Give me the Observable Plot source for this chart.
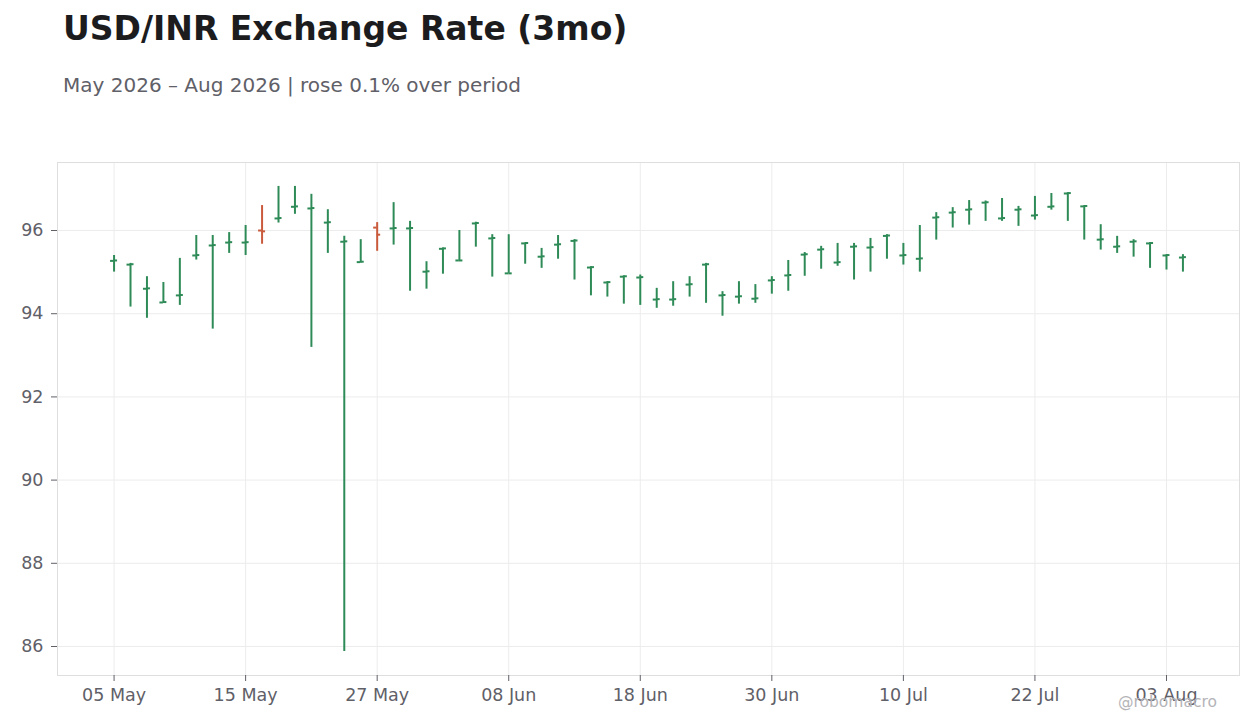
<!DOCTYPE html>
<html>
<head>
<meta charset="utf-8">
<script src="https://cdn.jsdelivr.net/npm/d3@7"></script>
<script src="https://cdn.jsdelivr.net/npm/@observablehq/plot@0.6"></script>
<style>
  html, body { margin: 0; padding: 0; background: #ffffff; }
  body { width: 1260px; height: 728px; position: relative; overflow: hidden; font-family: "DejaVu Sans", sans-serif; }
  #title { position: absolute; left: 63px; top: 12px; font-size: 33px; line-height: 1; font-weight: bold; color: #1c1c1e; white-space: nowrap; }
  #subtitle { position: absolute; left: 63px; top: 75px; font-size: 20px; line-height: 1; color: #5f6068; white-space: nowrap; }
  #chart { position: absolute; left: 0; top: 140px; }
  #credit { position: absolute; left: 1118px; top: 695px; font-size: 15.5px; line-height: 1; color: #b4b4b8; white-space: nowrap; }
</style>
</head>
<body>
<div id="title">USD/INR Exchange Rate (3mo)</div>
<div id="subtitle">May 2026 – Aug 2026 | rose 0.1% over period</div>
<div id="chart"></div>
<div id="credit">@robomacro</div>
<script>
// Trading days (weekdays) shown on the chart
const dates = [
  "2026-05-05","2026-05-06","2026-05-07","2026-05-08",
  "2026-05-11","2026-05-12","2026-05-13","2026-05-14","2026-05-15",
  "2026-05-18","2026-05-19","2026-05-20","2026-05-21","2026-05-22",
  "2026-05-25","2026-05-26","2026-05-27","2026-05-28","2026-05-29",
  "2026-06-01","2026-06-02","2026-06-03","2026-06-04","2026-06-05",
  "2026-06-08","2026-06-09","2026-06-10","2026-06-11","2026-06-12",
  "2026-06-15","2026-06-16","2026-06-17","2026-06-18","2026-06-19",
  "2026-06-22","2026-06-23","2026-06-24","2026-06-25","2026-06-26",
  "2026-06-29","2026-06-30","2026-07-01","2026-07-02","2026-07-03",
  "2026-07-06","2026-07-07","2026-07-08","2026-07-09","2026-07-10",
  "2026-07-13","2026-07-14","2026-07-15","2026-07-16","2026-07-17",
  "2026-07-20","2026-07-21","2026-07-22","2026-07-23","2026-07-24",
  "2026-07-27","2026-07-28","2026-07-29","2026-07-30","2026-07-31",
  "2026-08-03","2026-08-04"
];
const open = [
  95.27,95.18,94.60,94.27,94.44,95.40,95.64,95.71,95.71,
  96.00,96.29,96.57,96.53,96.19,95.73,95.24,96.07,96.05,96.05,
  95.01,95.56,95.28,96.17,95.81,94.97,95.69,95.37,95.66,95.75,
  95.11,94.75,94.89,94.87,94.34,94.34,94.70,95.18,94.44,94.41,
  94.36,94.80,94.92,95.42,95.54,95.23,95.61,95.59,95.87,95.40,
  95.32,96.31,96.43,96.50,96.67,96.29,96.50,96.36,96.57,96.89,
  96.58,95.78,95.61,95.73,95.69,95.40,95.35
];
const high = [
  95.40,95.21,94.89,94.75,95.33,95.88,95.88,95.95,96.12,
  96.60,97.06,97.06,96.87,96.50,95.86,95.78,96.19,96.67,96.22,
  95.25,95.58,96.00,96.20,95.90,95.90,95.70,95.57,95.88,95.78,
  95.13,94.77,94.91,94.93,94.61,94.77,94.89,95.21,94.53,94.77,
  94.70,94.89,95.28,95.47,95.62,95.69,95.69,95.81,95.90,95.69,
  96.12,96.43,96.55,96.72,96.71,96.77,96.58,96.82,96.89,96.91,
  96.60,96.14,95.86,95.78,95.71,95.42,95.42
];
const low = [
  95.00,94.16,93.89,94.25,94.20,95.29,93.63,95.45,95.40,
  95.67,96.18,96.39,93.19,95.45,85.88,95.22,95.50,95.65,94.54,
  94.59,94.95,95.28,95.60,94.88,94.97,95.19,95.09,95.31,94.81,
  94.43,94.40,94.23,94.20,94.13,94.18,94.40,94.25,93.94,94.23,
  94.25,94.47,94.54,94.90,95.07,95.14,94.81,95.00,95.31,95.17,
  95.00,95.77,96.06,96.13,96.22,96.22,96.10,96.25,96.49,96.22,
  95.77,95.53,95.45,95.36,95.09,95.05,95.00
];
const close = [
  95.28,95.19,94.61,94.28,94.45,95.41,95.65,95.72,95.72,
  95.98,96.30,96.58,96.54,96.20,95.74,95.25,95.90,96.06,96.06,
  95.02,95.57,95.28,96.18,95.82,94.97,95.70,95.38,95.67,95.76,
  95.12,94.76,94.90,94.88,94.35,94.35,94.71,95.19,94.45,94.42,
  94.37,94.81,94.93,95.43,95.55,95.24,95.62,95.60,95.88,95.41,
  95.33,96.32,96.44,96.51,96.68,96.30,96.51,96.37,96.58,96.90,
  96.59,95.79,95.62,95.74,95.70,95.41,95.36
];
const xTicks = ["2026-05-05","2026-05-15","2026-05-27","2026-06-08","2026-06-18",
                "2026-06-30","2026-07-10","2026-07-22","2026-08-03"];
const yTicks = [86, 88, 90, 92, 94, 96];

const upColor = "#2e8b57";
const downColor = "#c95a3c";
const gridColor = "#ececec";
const textColor = "#5f6068";

const data = dates.map((d, i) => ({
  date: d, open: open[i], high: high[i], low: low[i], close: close[i],
  color: close[i] >= open[i] ? upColor : downColor
}));

const parse = d3.utcParse("%Y-%m-%d");
const fmt = d => d3.utcFormat("%d %b")(parse(d));

const chart = Plot.plot({
  width: 1260,
  height: 588,
  marginLeft: 57,
  marginRight: 21,
  marginTop: 22,
  marginBottom: 53,
  style: { fontFamily: "DejaVu Sans", fontSize: "17.5px", color: textColor, background: "transparent" },
  x: { type: "point", domain: dates, padding: 3.44, round: false },
  y: { domain: [85.303, 97.635] },
  marks: [
    Plot.gridX(xTicks, { stroke: gridColor, strokeOpacity: 1 }),
    Plot.gridY(yTicks, { stroke: gridColor, strokeOpacity: 1 }),
    Plot.frame({ stroke: "#dedede" }),
    Plot.axisX({ ticks: xTicks, tickFormat: fmt, tickSize: 6, tickPadding: 7, label: null, stroke: textColor, fill: textColor }),
    Plot.axisY({ ticks: yTicks, tickSize: 6, tickPadding: 8, label: null, stroke: textColor, fill: textColor }),
    Plot.ruleX(data, { x: "date", y1: "low", y2: "high", stroke: "color", strokeWidth: 2 }),
    Plot.ruleY(data, { x1: "date", x2: "date", y: "open", stroke: "color", strokeWidth: 2, insetLeft: -3.5, insetRight: 0 }),
    Plot.ruleY(data, { x1: "date", x2: "date", y: "close", stroke: "color", strokeWidth: 2, insetLeft: 0, insetRight: -3.5 })
  ]
});
document.getElementById("chart").appendChild(chart);
</script>
</body>
</html>
